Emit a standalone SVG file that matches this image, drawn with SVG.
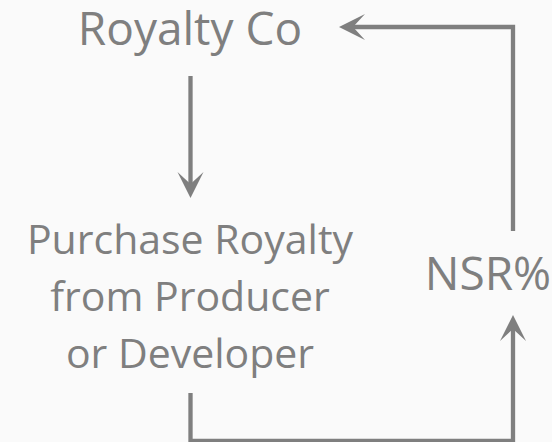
<svg xmlns="http://www.w3.org/2000/svg" width="552" height="442" viewBox="0 0 552 442">
  <style>
    .lbl { font-family: "Open Sans", "Noto Sans", "Liberation Sans", sans-serif; fill: #7f7f7f; text-anchor: middle; }
    .big { font-size: 46px; }
    .mid { font-size: 41px; }
    .link { fill: none; stroke: #7f7f7f; stroke-width: 4.3; marker-end: url(#ah); }
  </style>
  <defs>
    <!-- barbed arrowhead; path end sits at the notch, tip reaches 14px further -->
    <marker id="ah" markerUnits="userSpaceOnUse" orient="auto" overflow="visible" markerWidth="1" markerHeight="1">
      <path d="M14,0 L-12,-13 L0,0 L-12,13 Z" fill="#7f7f7f"/>
    </marker>
  </defs>
  <rect width="552" height="442" fill="#fafafa"/>

  <g id="connectors">
    <path class="link" d="M190.5,76 V184"/>
    <path class="link" d="M513,231 V27 H353"/>
    <path class="link" d="M190.5,393 V441 H513 V329"/>
  </g>

  <g id="royalty-co">
    <text class="lbl big" x="190" y="45">Royalty Co</text>
  </g>
  <g id="purchase-royalty">
    <text class="lbl mid" x="190" y="254">Purchase Royalty</text>
    <text class="lbl mid" x="190" y="311">from Producer</text>
    <text class="lbl mid" x="190" y="368">or Developer</text>
  </g>
  <g id="nsr">
    <text class="lbl big" x="488" y="290">NSR%</text>
  </g>
</svg>
